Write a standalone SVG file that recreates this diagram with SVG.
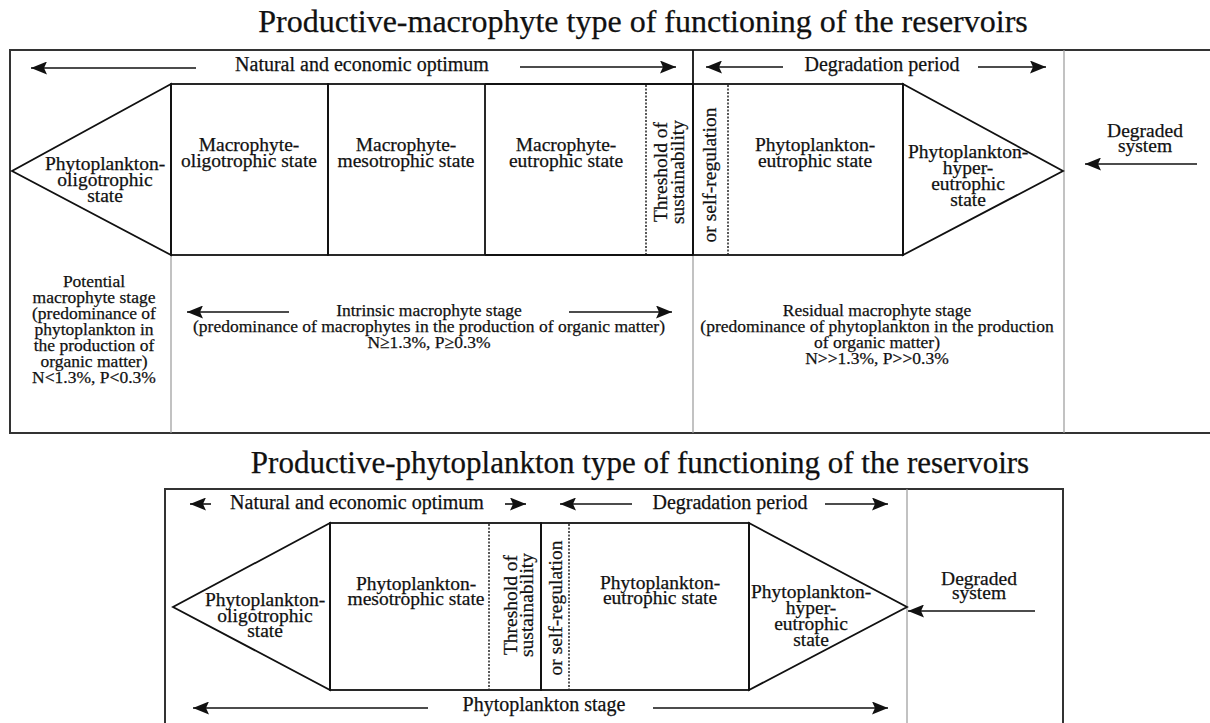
<svg xmlns="http://www.w3.org/2000/svg" width="1210" height="723" viewBox="0 0 1210 723">
<defs>
<marker id="ah" markerUnits="userSpaceOnUse" markerWidth="17" markerHeight="13" refX="16" refY="6.5" orient="auto">
<path d="M0,0 L16,6.5 L0,13 L3,6.5 z" fill="#111"/>
</marker>
<style>
text{font-family:"Liberation Serif","Times New Roman",serif;fill:#111;stroke:#111;stroke-width:0.25}
.t{font-size:31px}
.t1{font-size:32px}
.h{font-size:20px}
.l{font-size:19.5px;text-anchor:middle}
.s{font-size:17.5px;text-anchor:middle}
.c{text-anchor:middle}
.frame{fill:none;stroke:#333;stroke-width:2}
.sh{fill:none;stroke:#111;stroke-width:1.8;stroke-linejoin:miter}
.dv{stroke:#111;stroke-width:1.8}
.dot{stroke:#222;stroke-width:1.5;stroke-dasharray:2,1.5}
.thin{stroke:#999;stroke-width:1.2}
.arr{stroke:#111;stroke-width:1.6;fill:none;marker-end:url(#ah)}
</style>
</defs>
<rect width="1210" height="723" fill="#fff"/>

<!-- ===== Top diagram ===== -->
<text class="t1 c" x="643" y="32">Productive-macrophyte type of functioning of the reservoirs</text>
<g id="top-frame">
<rect class="frame" x="10" y="50" width="1215" height="383"/>
<line class="thin" x1="1064" y1="50" x2="1064" y2="433"/>
<line class="thin" x1="171" y1="255" x2="171" y2="433"/>
<line class="thin" x1="693" y1="255" x2="693" y2="433"/>
<line class="dv" x1="693" y1="50" x2="693" y2="255"/>
<text class="h c" x="362" y="71">Natural and economic optimum</text>
<text class="h c" x="882" y="71">Degradation period</text>
</g>
<g id="top-phyto-oligo">
<polygon class="sh" points="171,84 12,171 171,255"/>
<text class="l" x="105" y="170">Phytoplankton-</text>
<text class="l" x="105" y="186">oligotrophic</text>
<text class="l" x="105" y="202">state</text>
</g>
<g id="top-macro-oligo">
<rect class="sh" x="171" y="84" width="157" height="171"/>
<text class="l" x="249" y="151">Macrophyte-</text>
<text class="l" x="249" y="167">oligotrophic state</text>
</g>
<g id="top-macro-meso">
<rect class="sh" x="328" y="84" width="157" height="171"/>
<text class="l" x="406" y="151">Macrophyte-</text>
<text class="l" x="406" y="167">mesotrophic state</text>
</g>
<g id="top-macro-eu">
<line class="sh" x1="485" y1="84" x2="693" y2="84"/>
<line class="sh" x1="485" y1="255" x2="693" y2="255"/>
<text class="l" x="566" y="151">Macrophyte-</text>
<text class="l" x="566" y="167">eutrophic state</text>
</g>
<g id="top-threshold">
<line class="dot" x1="646" y1="85" x2="646" y2="254"/>
<line class="dot" x1="728" y1="85" x2="728" y2="254"/>
<text class="l" transform="translate(667,172) rotate(-90)">Threshold of</text>
<text class="l" transform="translate(684,172) rotate(-90)">sustainability</text>
<text class="l" transform="translate(716,175) rotate(-90)">or self-regulation</text>
</g>
<g id="top-phyto-eu">
<rect class="sh" x="693" y="84" width="210" height="171"/>
<text class="l" x="815" y="151">Phytoplankton-</text>
<text class="l" x="815" y="167">eutrophic state</text>
</g>
<g id="top-phyto-hyper">
<polygon class="sh" points="903,84 1063,171 903,255"/>
<text class="l" x="968" y="158">Phytoplankton-</text>
<text class="l" x="968" y="174">hyper-</text>
<text class="l" x="968" y="190">eutrophic</text>
<text class="l" x="968" y="206">state</text>
</g>
<g id="top-degraded">
<text class="l" x="1145" y="137">Degraded</text>
<text class="l" x="1145" y="152">system</text>
</g>
<g id="top-potential">
<text class="s" x="94" y="287">Potential</text>
<text class="s" x="94" y="303">macrophyte stage</text>
<text class="s" x="94" y="319">(predominance of</text>
<text class="s" x="94" y="335">phytoplankton in</text>
<text class="s" x="94" y="351">the production of</text>
<text class="s" x="94" y="367">organic matter)</text>
<text class="s" x="94" y="383">N&lt;1.3%, P&lt;0.3%</text>
</g>
<g id="top-intrinsic">
<text class="s" x="429" y="316">Intrinsic macrophyte stage</text>
<text class="s" x="429" y="332">(predominance of macrophytes in the production of organic matter)</text>
<text class="s" x="429" y="348">N≥1.3%, P≥0.3%</text>
</g>
<g id="top-residual">
<text class="s" x="877" y="316">Residual macrophyte stage</text>
<text class="s" x="877" y="332">(predominance of phytoplankton in the production</text>
<text class="s" x="877" y="348">of organic matter)</text>
<text class="s" x="877" y="364">N&gt;&gt;1.3%, P&gt;&gt;0.3%</text>
</g>

<!-- ===== Bottom diagram ===== -->
<text class="t c" x="640" y="473">Productive-phytoplankton type of functioning of the reservoirs</text>
<g id="bot-frame">
<rect class="frame" x="165" y="489" width="898" height="260"/>
<line class="thin" x1="907" y1="489" x2="907" y2="723"/>
<text class="h c" x="357" y="509">Natural and economic optimum</text>
<text class="h c" x="730" y="509">Degradation period</text>
<text class="h c" x="544" y="711">Phytoplankton stage</text>
</g>
<g id="bot-phyto-oligo">
<polygon class="sh" points="330,523 173,607 330,690"/>
<text class="l" x="265" y="606">Phytoplankton-</text>
<text class="l" x="265" y="622">oligotrophic</text>
<text class="l" x="265" y="637">state</text>
</g>
<g id="bot-phyto-meso">
<rect class="sh" x="330" y="523" width="211" height="167"/>
<text class="l" x="416" y="590">Phytoplankton-</text>
<text class="l" x="416" y="605">mesotrophic state</text>
</g>
<g id="bot-threshold">
<line class="dot" x1="489" y1="524" x2="489" y2="689"/>
<line class="dot" x1="569" y1="524" x2="569" y2="689"/>
<text class="l" transform="translate(517,605) rotate(-90)">Threshold of</text>
<text class="l" transform="translate(533,605) rotate(-90)">sustainability</text>
<text class="l" transform="translate(562,608) rotate(-90)">or self-regulation</text>
</g>
<g id="bot-phyto-eu">
<rect class="sh" x="541" y="523" width="208" height="167"/>
<text class="l" x="660" y="589">Phytoplankton-</text>
<text class="l" x="660" y="604">eutrophic state</text>
</g>
<g id="bot-phyto-hyper">
<polygon class="sh" points="749,523 907,607 749,690"/>
<text class="l" x="811" y="598">Phytoplankton-</text>
<text class="l" x="811" y="614">hyper-</text>
<text class="l" x="811" y="630">eutrophic</text>
<text class="l" x="811" y="646">state</text>
</g>
<g id="bot-degraded">
<text class="l" x="979" y="585">Degraded</text>
<text class="l" x="979" y="599">system</text>
</g>

<!-- ===== Connectors ===== -->
<g id="connectors">
<line class="arr" x1="196" y1="68" x2="31" y2="68"/>
<line class="arr" x1="520" y1="67" x2="676" y2="67"/>
<line class="arr" x1="783" y1="67" x2="706" y2="67"/>
<line class="arr" x1="978" y1="67" x2="1046" y2="67"/>
<line class="arr" x1="1197" y1="164" x2="1085" y2="164"/>
<line class="arr" x1="289" y1="312" x2="187" y2="312"/>
<line class="arr" x1="569" y1="312" x2="672" y2="312"/>
<line class="arr" x1="211" y1="504" x2="190" y2="504"/>
<line class="arr" x1="505" y1="504" x2="526" y2="504"/>
<line class="arr" x1="632" y1="504" x2="560" y2="504"/>
<line class="arr" x1="825" y1="504" x2="888" y2="504"/>
<line class="arr" x1="1035" y1="611" x2="908" y2="611"/>
<line class="arr" x1="428" y1="708" x2="193" y2="708"/>
<line class="arr" x1="653" y1="708" x2="888" y2="708"/>
</g>
</svg>
